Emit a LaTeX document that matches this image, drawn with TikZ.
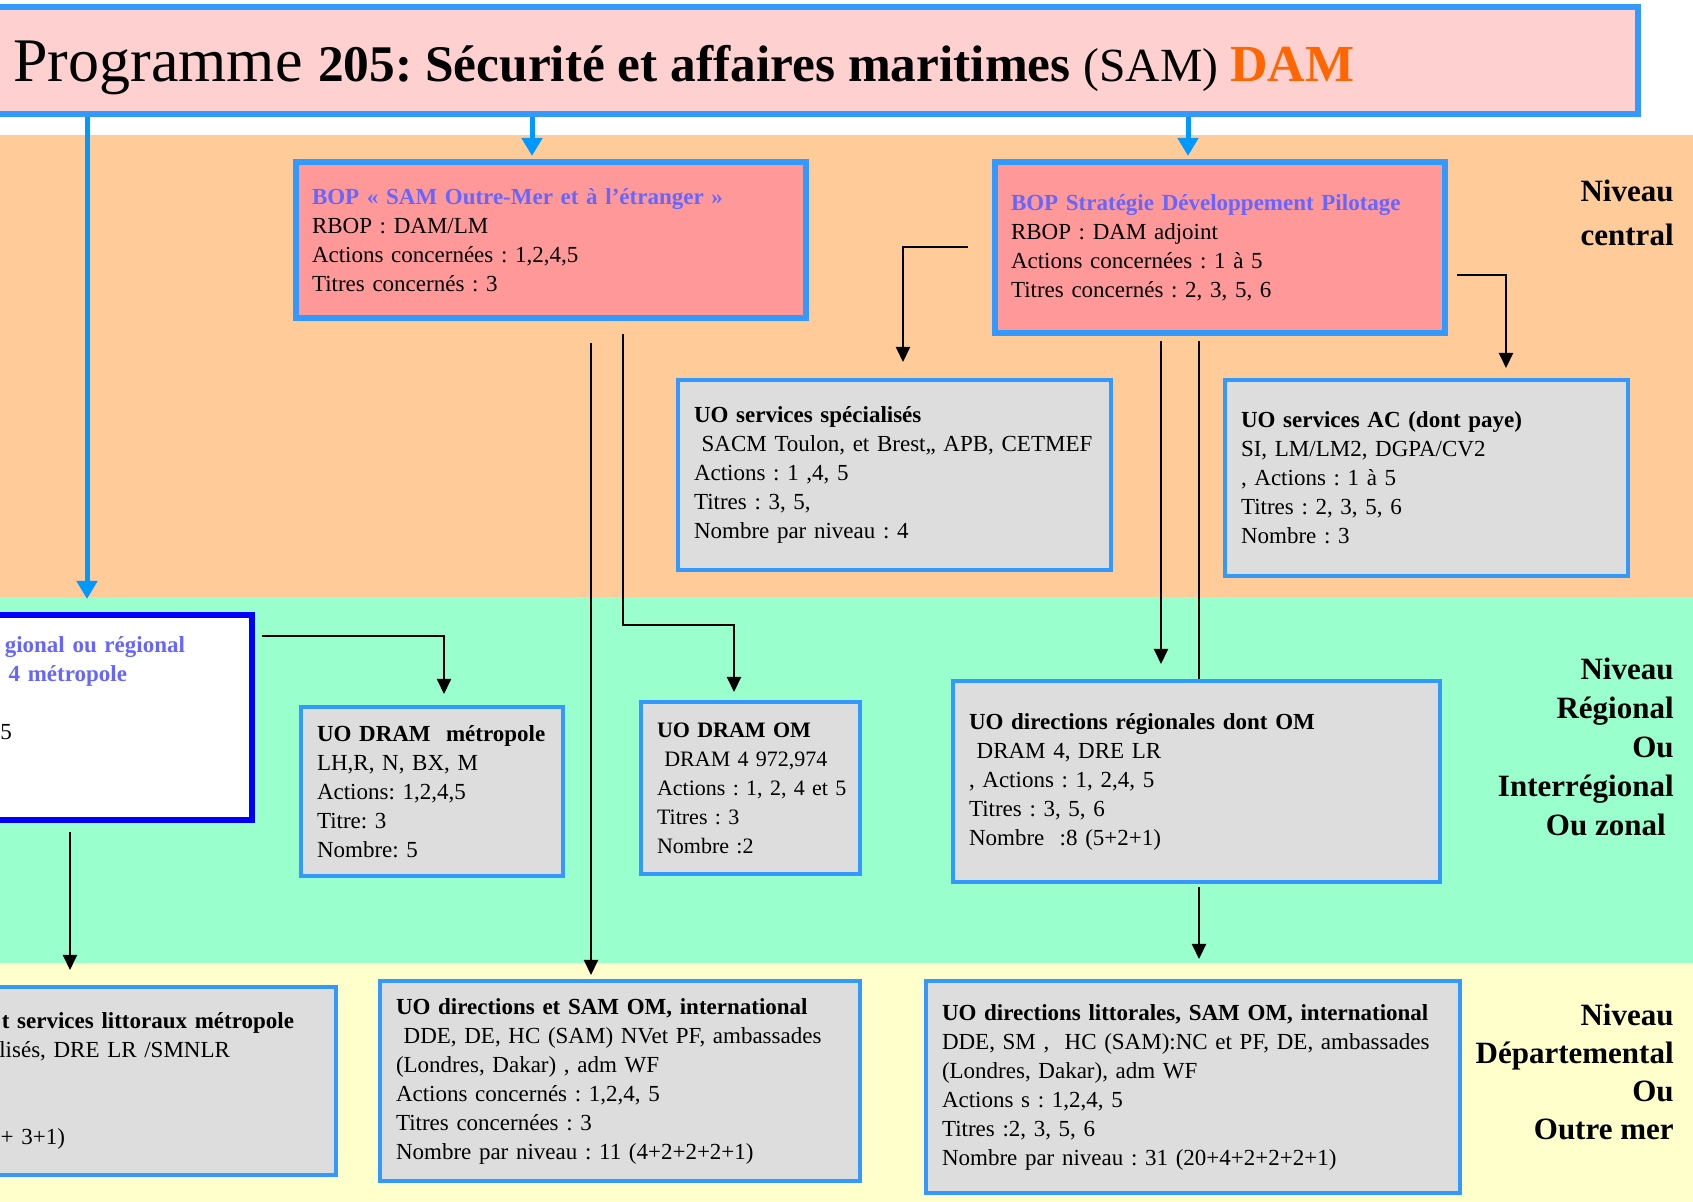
\documentclass[tikz,border=0pt]{standalone}
\usepackage{fontspec}
\setmainfont{Liberation Serif}
\usetikzlibrary{arrows.meta}
\frenchspacing
\definecolor{titlefill}{HTML}{FFD0D0}
\definecolor{borderblue}{HTML}{3399FF}
\definecolor{arrowblue}{HTML}{0099FF}
\definecolor{bopfill}{HTML}{FF9999}
\definecolor{boptext}{HTML}{6666FF}
\definecolor{uofill}{HTML}{DDDDDD}
\definecolor{bandorange}{HTML}{FFCC99}
\definecolor{bandgreen}{HTML}{99FFCC}
\definecolor{bandyellow}{HTML}{FFFFCC}
\definecolor{damorange}{HTML}{FF6600}
\definecolor{deepblue}{HTML}{0000FF}
\newcommand\pxu{0.5pt}
\tikzset{
  boxbase/.style={rectangle, inner xsep=8pt, inner ysep=0pt, align=left,
    font=\frenchspacing\fontsize{11.5}{14.5}\selectfont},
  boxsize/.style 2 args={minimum width=#1*\pxu, minimum height=#2*\pxu, text width=(#1-32)*\pxu},
  partsize/.style 2 args={minimum width=#1*\pxu, minimum height=#2*\pxu, text width=#1*\pxu, inner xsep=0pt},
  titlebox/.style={rectangle, draw=borderblue, line width=3pt, fill=titlefill, inner sep=0pt},
  bopbox/.style={boxbase, draw=borderblue, line width=3pt, fill=bopfill},
  uobox/.style={boxbase, draw=borderblue, line width=2pt, fill=uofill},
  regbox/.style={boxbase, draw=deepblue, line width=3pt, fill=white},
  conn/.style={draw=black, line width=1pt, -{Triangle[length=7.5pt,width=7pt]}},
  bline/.style={draw=black, line width=1pt},
  bluearr/.style={draw=arrowblue, line width=2.5pt, -{Triangle[length=9pt,width=10pt]}},
  lvlabel/.style={anchor=east, align=right, inner sep=0pt},
}
\begin{document}
\begin{tikzpicture}[x=0.5pt,y=-0.5pt]
\useasboundingbox (0,0) rectangle (1693,1202);
\clip (0,0) rectangle (1693,1202);
\fill[white] (0,0) rectangle (1693,1202);
\fill[bandorange] (0,135) rectangle (1693,597);
\fill[bandgreen] (0,597) rectangle (1693,963);
\fill[bandyellow] (0,963) rectangle (1693,1202);

% title
\node[titlebox, minimum width=1648*\pxu, minimum height=107.5*\pxu] (title) at (814,60.75) {};
\node[anchor=base west, inner sep=0pt] (titletext) at (13,82)
  {{\fontsize{31}{31}\selectfont Programme }{\fontsize{25.7}{26}\selectfont\bfseries 205: Sécurité et affaires maritimes }{\fontsize{23.8}{26}\selectfont (SAM) }{\fontsize{26}{26}\selectfont\bfseries\color{damorange}DAM}};

% BOP boxes
\node[bopbox, boxsize={510}{156}] (bops) at (551,240)
  {\mbox{\textcolor{boptext}{\textbf{BOP « SAM Outre-Mer et à l’étranger »}}}\\
   \mbox{RBOP : DAM/LM}\\
   \mbox{Actions concernées : 1,2,4,5}\\
   \mbox{Titres concernés : 3}};
\node[bopbox, boxsize={450}{171}] (bopd) at (1220,247.5)
  {\mbox{\textcolor{boptext}{\textbf{BOP Stratégie Développement Pilotage}}}\\
   \mbox{RBOP : DAM adjoint}\\
   \mbox{Actions concernées : 1 à 5}\\
   \mbox{Titres concernés : 2, 3, 5, 6}};

% central UO
\node[uobox, boxsize={433}{190}] (uos) at (894.5,475)
  {\mbox{\textbf{UO services spécialisés}}\\
   \mbox{\ SACM Toulon, et Brest,, APB, CETMEF}\\
   \mbox{Actions : 1 ,4, 5}\\
   \mbox{Titres : 3, 5,}\\
   \mbox{Nombre par niveau : 4}};
\node[uobox, boxsize={403}{196}] (uoac) at (1426.5,478)
  {\mbox{\textbf{UO services AC (dont paye)}}\\
   \mbox{SI, LM/LM2, DGPA/CV2}\\
   \mbox{, Actions : 1 à 5}\\
   \mbox{Titres : 2, 3, 5, 6}\\
   \mbox{Nombre : 3}};

% regional level
\node[regbox, partsize={262}{205}] (lbox) at (121,717.5)
  {\makebox[97.5pt][r]{\textcolor{boptext}{\textbf{gional ou régional}}}\\
   \makebox[68.5pt][r]{\textcolor{boptext}{\textbf{4 métropole}}}\\
   \mbox{}\\
   \makebox[11pt][r]{5}\\
   \mbox{}\\
   \mbox{}};
\node[uobox, boxsize={262}{169}] (drammet) at (432,791.5)
  {\mbox{\textbf{UO DRAM\ \ métropole}}\\
   \mbox{LH,R, N, BX, M}\\
   \mbox{Actions: 1,2,4,5}\\
   \mbox{Titre: 3}\\
   \mbox{Nombre: 5}};
\node[uobox, boxsize={219}{172}, font=\frenchspacing\fontsize{11}{14.5}\selectfont] (dramom) at (750.5,788)
  {\mbox{\textbf{UO DRAM OM}}\\
   \mbox{\ DRAM 4 972,974}\\
   \mbox{Actions : 1, 2, 4 et 5}\\
   \mbox{Titres : 3}\\
   \mbox{Nombre :2}};
\node[uobox, boxsize={487}{201}] (dreg) at (1196.5,781.5)
  {\mbox{\textbf{UO directions régionales dont OM}}\\
   \mbox{\ DRAM 4, DRE LR}\\
   \mbox{, Actions : 1, 2,4, 5}\\
   \mbox{Titres : 3, 5, 6}\\
   \mbox{Nombre\ \ :8 (5+2+1)}};

% departmental level
\node[uobox, partsize={346}{188}] (botl) at (163,1081)
  {\makebox[152pt][r]{\textbf{t services littoraux métropole}}\\
   \makebox[120pt][r]{lisés, DRE LR /SMNLR}\\
   \mbox{}\\
   \mbox{}\\
   \makebox[37.5pt][r]{+ 3+1)}};
\node[uobox, boxsize={480}{200}] (dso) at (620,1081)
  {\mbox{\textbf{UO directions et SAM OM, international}}\\
   \mbox{\ DDE, DE, HC (SAM) NVet PF, ambassades}\\
   \mbox{(Londres, Dakar) , adm WF}\\
   \mbox{Actions concernés : 1,2,4, 5}\\
   \mbox{Titres concernées : 3}\\
   \mbox{Nombre par niveau : 11 (4+2+2+2+1)}};
\node[uobox, boxsize={534}{212}] (dlit) at (1193,1087)
  {\mbox{\textbf{UO directions littorales, SAM OM, international}}\\
   \mbox{DDE, SM ,\ \ HC (SAM):NC et PF, DE, ambassades}\\
   \mbox{(Londres, Dakar), adm WF}\\
   \mbox{Actions s : 1,2,4, 5}\\
   \mbox{Titres :2, 3, 5, 6}\\
   \mbox{Nombre par niveau : 31 (20+4+2+2+2+1)}};

% level labels
\node[lvlabel, font=\bfseries\fontsize{15.5}{22}\selectfont] (lvc) at (1674,213) {Niveau\\central};
\node[lvlabel, font=\bfseries\fontsize{15.5}{19.5}\selectfont] (lvr) at (1674,747)
  {Niveau\\Régional\\Ou\\Interrégional\\Ou zonal\rule{4pt}{0pt}};
\node[lvlabel, font=\bfseries\fontsize{15.5}{19}\selectfont] (lvd) at (1674,1072)
  {Niveau\\Départemental\\Ou\\Outre mer};

% blue arrows from the programme
\coordinate (xa) at (87,0);
\coordinate (xb) at (532,0);
\coordinate (xc) at (1188,0);
\draw[bluearr, shorten >=6.5pt] (title.south -| xa) -- (lbox.north -| xa);
\draw[bluearr, shorten >=1.5pt] (title.south -| xb) -- (bops.north -| xb);
\draw[bluearr, shorten >=1.5pt] (title.south -| xc) -- (bopd.north -| xc);

% black connectors
\coordinate (k1) at (903,247.5);
\draw[conn, shorten <=12pt, shorten >=8pt] (bopd.west) -- (k1) -- (k1 |- uos.north);
\coordinate (k2) at (1506,275);
\draw[conn, shorten <=4.5pt, shorten >=5pt] (bopd.east |- k2) -- (k2) -- (k2 |- uoac.north);
\coordinate (k3) at (591,0);
\draw[conn, shorten <=11pt, shorten >=2pt] (bops.south -| k3) -- (dso.north -| k3);
\coordinate (k4) at (623,625);
\coordinate (k5) at (734,625);
\draw[conn, shorten <=6.5pt, shorten >=4pt] (bops.south -| k4) -- (k4) -- (k5) -- (k5 |- dramom.north);
\coordinate (k6) at (1161,0);
\draw[conn, shorten <=2.5pt, shorten >=7.5pt] (bopd.south -| k6) -- (dreg.north -| k6);
\coordinate (k7) at (1199,0);
\draw[bline, shorten <=2.5pt] (bopd.south -| k7) -- (dreg.north -| k7);
\draw[conn, shorten <=1.5pt, shorten >=10pt] (dreg.south -| k7) -- (dlit.north -| k7);
\coordinate (k8) at (444,636);
\draw[conn, shorten <=3.5pt, shorten >=5.5pt] (lbox.east |- k8) -- (k8) -- (k8 |- drammet.north);
\coordinate (k9) at (70,0);
\draw[conn, shorten <=4.5pt, shorten >=7.5pt] (lbox.south -| k9) -- (botl.north -| k9);
\end{tikzpicture}
\end{document}
